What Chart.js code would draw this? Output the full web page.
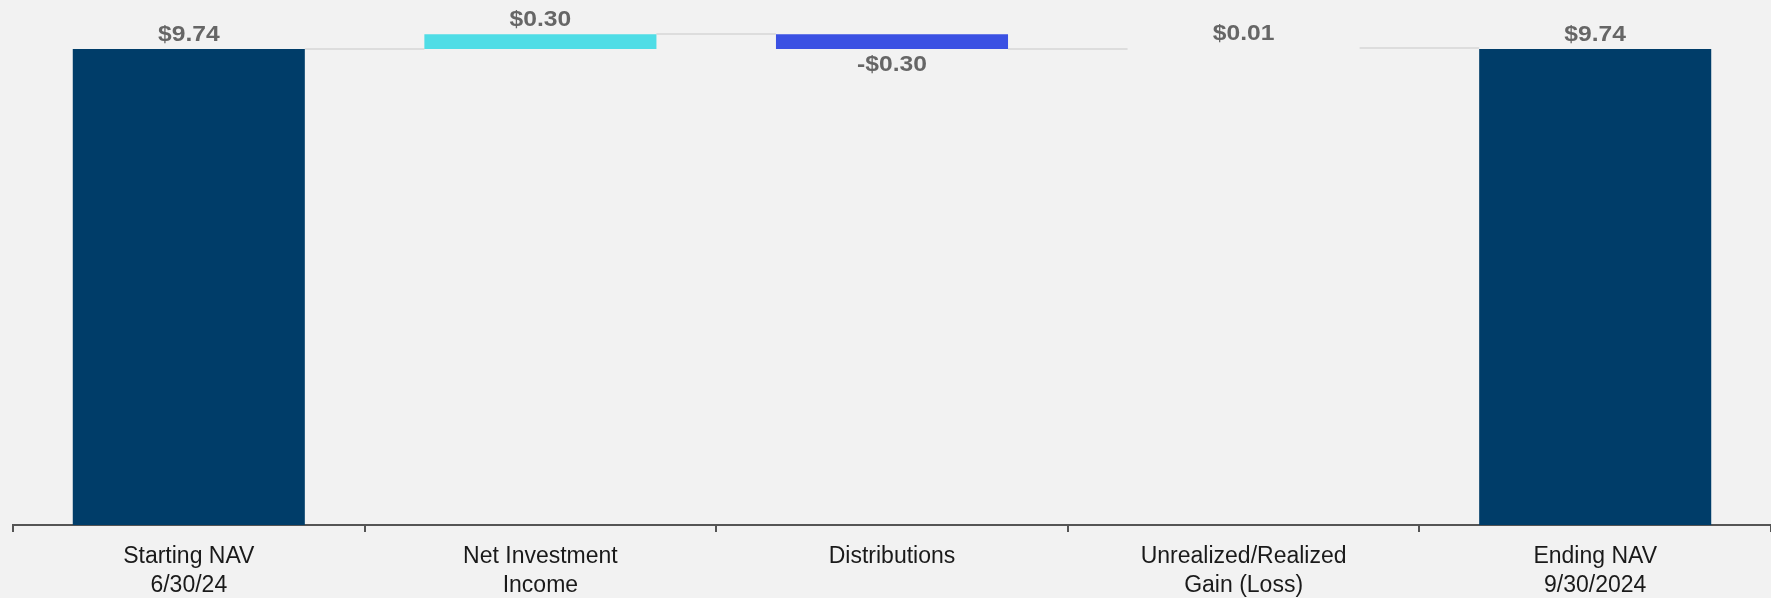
<!DOCTYPE html>
<html lang="en">
<head>
    <meta charset="UTF-8">
    <title>NAV Bridge</title>
    <script src="https://cdn.jsdelivr.net/npm/chart.js"></script>
    <style>
        body {
            margin: 0;
            padding: 0;
            background-color: #f2f2f2;
        }
        canvas {
            display: block;
        }
    </style>
</head>
<body>
    <canvas id="navChart" width="1771" height="598"></canvas>

    <script>
        // data
        const categories = [
            ['Starting NAV', '6/30/24'],
            ['Net Investment', 'Income'],
            ['Distributions'],
            ['Unrealized/Realized', 'Gain (Loss)'],
            ['Ending NAV', '9/30/2024']
        ];
        const changes = [9.74, 0.30, -0.30, 0.01, 9.74];
        const isTotal = [true, false, false, false, true];
        const valueLabels = ['$9.74', '$0.30', '-$0.30', '$0.01', '$9.74'];
        const barColors = ['#003d69', '#4fdde6', '#3b51e3', 'rgba(0,0,0,0)', '#003d69'];

        // build floating ranges for the waterfall
        const ranges = [];
        let running = 0;
        for (let i = 0; i < changes.length; i++) {
            if (isTotal[i]) {
                ranges.push([0, changes[i]]);
                running = changes[i];
            } else {
                ranges.push([running, running + changes[i]]);
                running += changes[i];
            }
        }

        const fontFamily = '"Liberation Sans", Arial, sans-serif';

        // connector lines between bars
        const connectorPlugin = {
            id: 'connectors',
            beforeDatasetsDraw(chart) {
                const meta = chart.getDatasetMeta(0);
                const y = chart.scales.y;
                const c = chart.ctx;
                c.save();
                c.strokeStyle = '#dddddd';
                c.lineWidth = 2;
                for (let i = 0; i < meta.data.length - 1; i++) {
                    const bar = meta.data[i];
                    const next = meta.data[i + 1];
                    const py = Math.round(y.getPixelForValue(ranges[i][1]));
                    c.beginPath();
                    c.moveTo(bar.x + bar.width / 2, py);
                    c.lineTo(next.x - next.width / 2, py);
                    c.stroke();
                }
                c.restore();
            }
        };

        // value labels above / below bars (text is a bit wide in the original)
        const labelPlugin = {
            id: 'valueLabels',
            afterDatasetsDraw(chart) {
                const meta = chart.getDatasetMeta(0);
                const c = chart.ctx;
                c.save();
                c.font = 'bold 22px ' + fontFamily;
                c.fillStyle = '#666666';
                c.textAlign = 'center';
                meta.data.forEach((bar, i) => {
                    const top = Math.min(bar.y, bar.base);
                    const bottom = Math.max(bar.y, bar.base);
                    c.save();
                    c.translate(bar.x, 0);
                    c.scale(1.12, 1);
                    if (changes[i] < 0) {
                        c.textBaseline = 'top';
                        c.fillText(valueLabels[i], 0, bottom + 5);
                    } else {
                        c.textBaseline = 'bottom';
                        c.fillText(valueLabels[i], 0, top - 3);
                    }
                    c.restore();
                });
                c.restore();
            }
        };

        const ctx = document.getElementById('navChart').getContext('2d');
        const chart = new Chart(ctx, {
            type: 'bar',
            data: {
                labels: categories,
                datasets: [{
                    data: ranges,
                    backgroundColor: barColors,
                    borderWidth: 0,
                    categoryPercentage: 1,
                    barPercentage: 0.66
                }]
            },
            options: {
                responsive: false,
                animation: false,
                layout: {
                    padding: { left: 13, right: 0, top: 0, bottom: 0 }
                },
                plugins: {
                    legend: { display: false },
                    tooltip: { enabled: false }
                },
                scales: {
                    x: {
                        afterFit(scale) { scale.height = 73; },
                        border: { display: true, color: '#555555', width: 2 },
                        grid: {
                            offset: true,
                            drawOnChartArea: false,
                            drawTicks: true,
                            tickLength: 7,
                            color: '#555555',
                            lineWidth: 2
                        },
                        ticks: {
                            color: '#1a1a1a',
                            padding: 10,
                            maxRotation: 0,
                            autoSkip: false,
                            font: { family: fontFamily, size: 23, lineHeight: 1.26 }
                        }
                    },
                    y: {
                        display: false,
                        min: 0,
                        max: 10.74
                    }
                }
            },
            plugins: [connectorPlugin, labelPlugin]
        });
    </script>
</body>
</html>
